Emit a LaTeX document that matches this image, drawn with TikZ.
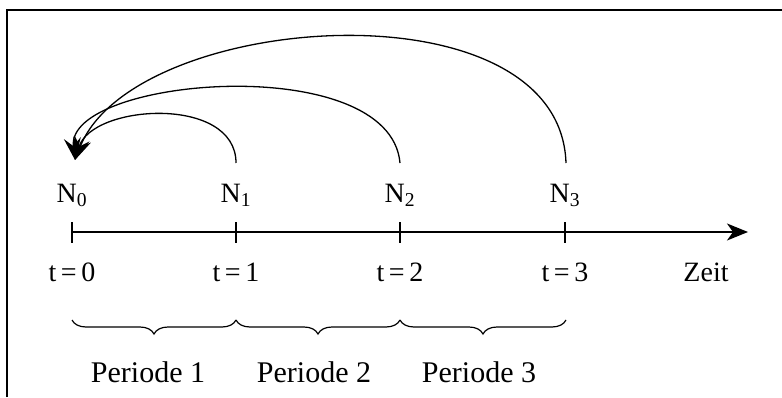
\documentclass[tikz,border=0pt]{standalone}
\usepackage{fontspec}
\setmainfont{Liberation Serif}
\usetikzlibrary{arrows.meta,decorations.pathreplacing}
\begin{document}
\begin{tikzpicture}[x=1pt,y=1pt,
  lbl/.style={inner sep=0pt,anchor=base,font=\fontsize{28}{30}\selectfont},
  plbl/.style={inner sep=0pt,anchor=base,font=\fontsize{30}{32}\selectfont},
  axisline/.style={line width=1.5pt,-{Stealth[length=21pt,width=17pt,inset=6pt]}},
  tickline/.style={line width=1.4pt},
  arcline/.style={line width=1.3pt,-{Stealth[length=22pt,width=17pt,inset=8pt]}},
  bracestyle/.style={line width=1.2pt,decorate,decoration={brace,mirror,amplitude=14pt}}]
\useasboundingbox (0,0) rectangle (782,397);
% frame
\draw[line width=2pt] (6.5,0) -- (6.5,386.5) -- (782,386.5);
% axis
\coordinate (ax0) at (72,165);
\coordinate (ax1) at (748,165);
\draw[axisline] (ax0) -- (ax1);
\foreach \i/\x in {0/72,1/236,2/400,3/565}{
  \draw[tickline] (\x,175) -- (\x,154);
  \node[lbl] (N\i) at (\x,195) {N\textsubscript{\i}};
  \node[lbl] (t\i) at (\x,115.5) {t\,=\,\i};
}
\node[lbl] (zeit) at (706,115.5) {Zeit};
% arcs
\coordinate (tip) at (75,237);
\coordinate (a1) at (236,234);
\coordinate (a2) at (400,234);
\coordinate (a3) at (566,234);
\draw[arcline] (a1) .. controls (236,302) and (92,293) .. (tip);
\draw[arcline] (a2) .. controls (390,347) and (65,320) .. (tip);
\draw[arcline] (a3) .. controls (560,417) and (133,386) .. (tip);
% braces
\coordinate (b0) at (72,77);
\coordinate (b1) at (236,77);
\coordinate (b2) at (400,77);
\coordinate (b3) at (566,77);
\draw[bracestyle] (b0) -- (b1);
\draw[bracestyle] (b1) -- (b2);
\draw[bracestyle] (b2) -- (b3);
\node[plbl] (p1) at (148,15) {Periode 1};
\node[plbl] (p2) at (314,15) {Periode 2};
\node[plbl] (p3) at (479,15) {Periode 3};
\end{tikzpicture}
\end{document}
